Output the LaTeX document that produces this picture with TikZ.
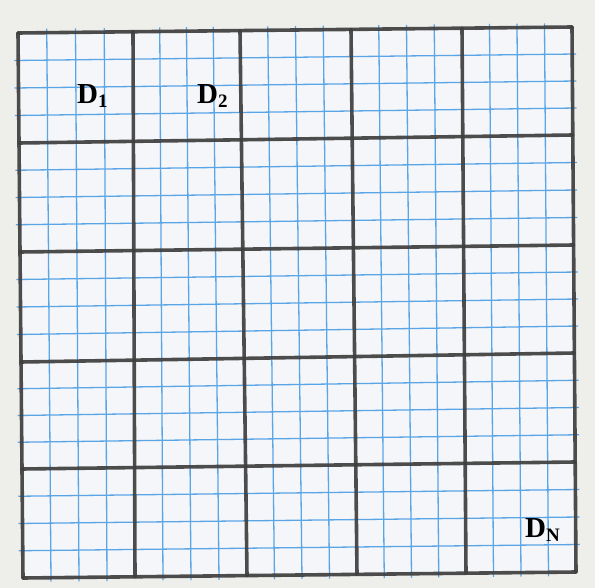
\documentclass[tikz,border=0pt]{standalone}
\usepackage{fontspec}
\setmainfont{Liberation Serif}
\definecolor{paperbg}{HTML}{EEEEEA}
\definecolor{paper}{HTML}{F5F6F9}
\definecolor{gridblue}{HTML}{5AA5E6}
\definecolor{pencil}{HTML}{3E3E3E}
\newcommand{\Dlabel}[1]{{\fontsize{29}{29}\selectfont\bfseries D\raisebox{-4pt}{\fontsize{19}{19}\selectfont #1}}}
\begin{document}
\begin{tikzpicture}[x=1pt,y=-1pt,
  fine/.style={draw=gridblue,line width=1.3pt},
  thick/.style={draw=pencil,line width=3.6pt,line cap=round,opacity=0.92},
  lab/.style={inner sep=0pt,anchor=base west}]
\useasboundingbox (0,0) rectangle (595,588);
\fill[paperbg] (0,0) rectangle (595,588);
\fill[paper] (18,33) -- (572,27) -- (576,572) -- (23,578) -- cycle;
\def\TX{{18,133,240,351,462,572}}
\def\BX{{23,135,247,357,466,576}}
\def\LY{{33,143,252,362,469,578}}
\def\RY{{27,135,245,353,462,572}}
% fine blue grid
\foreach \i in {0,...,4} {
  \foreach \k in {1,2,3} {
    \pgfmathsetmacro\xa{\TX[\i]+\k/4*(\TX[\i+1]-\TX[\i])}
    \pgfmathsetmacro\xb{\BX[\i]+\k/4*(\BX[\i+1]-\BX[\i])}
    \pgfmathsetmacro\ya{33-6*(\xa-18)/554}
    \pgfmathsetmacro\yb{578-6*(\xb-23)/553}
    \draw[fine] (\xa,\ya-4) -- (\xb,\yb+4);
    \pgfmathsetmacro\yl{\LY[\i]+\k/4*(\LY[\i+1]-\LY[\i])}
    \pgfmathsetmacro\yr{\RY[\i]+\k/4*(\RY[\i+1]-\RY[\i])}
    \pgfmathsetmacro\xl{18+5*(\yl-33)/545}
    \pgfmathsetmacro\xr{572+4*(\yr-27)/545}
    \draw[fine] (\xl-4,\yl) -- (\xr+4,\yr);
  }
}
% thick pencil lines
\foreach \i in {0,...,5} {
  \pgfmathsetmacro\xa{\TX[\i]}
  \pgfmathsetmacro\xb{\BX[\i]}
  \pgfmathsetmacro\ya{33-6*(\xa-18)/554}
  \pgfmathsetmacro\yb{578-6*(\xb-23)/553}
  \draw[thick] (\xa,\ya) -- (\xb,\yb);
  \pgfmathsetmacro\yl{\LY[\i]}
  \pgfmathsetmacro\yr{\RY[\i]}
  \pgfmathsetmacro\xl{18+5*(\yl-33)/545}
  \pgfmathsetmacro\xr{572+4*(\yr-27)/545}
  \draw[thick] (\xl,\yl) -- (\xr,\yr);
}
\node[lab] (d1) at (77,104) {\Dlabel{1}};
\node[lab] (d2) at (197,104) {\Dlabel{2}};
\node[lab] (dn) at (525,537) {\Dlabel{N}};
\end{tikzpicture}
\end{document}
